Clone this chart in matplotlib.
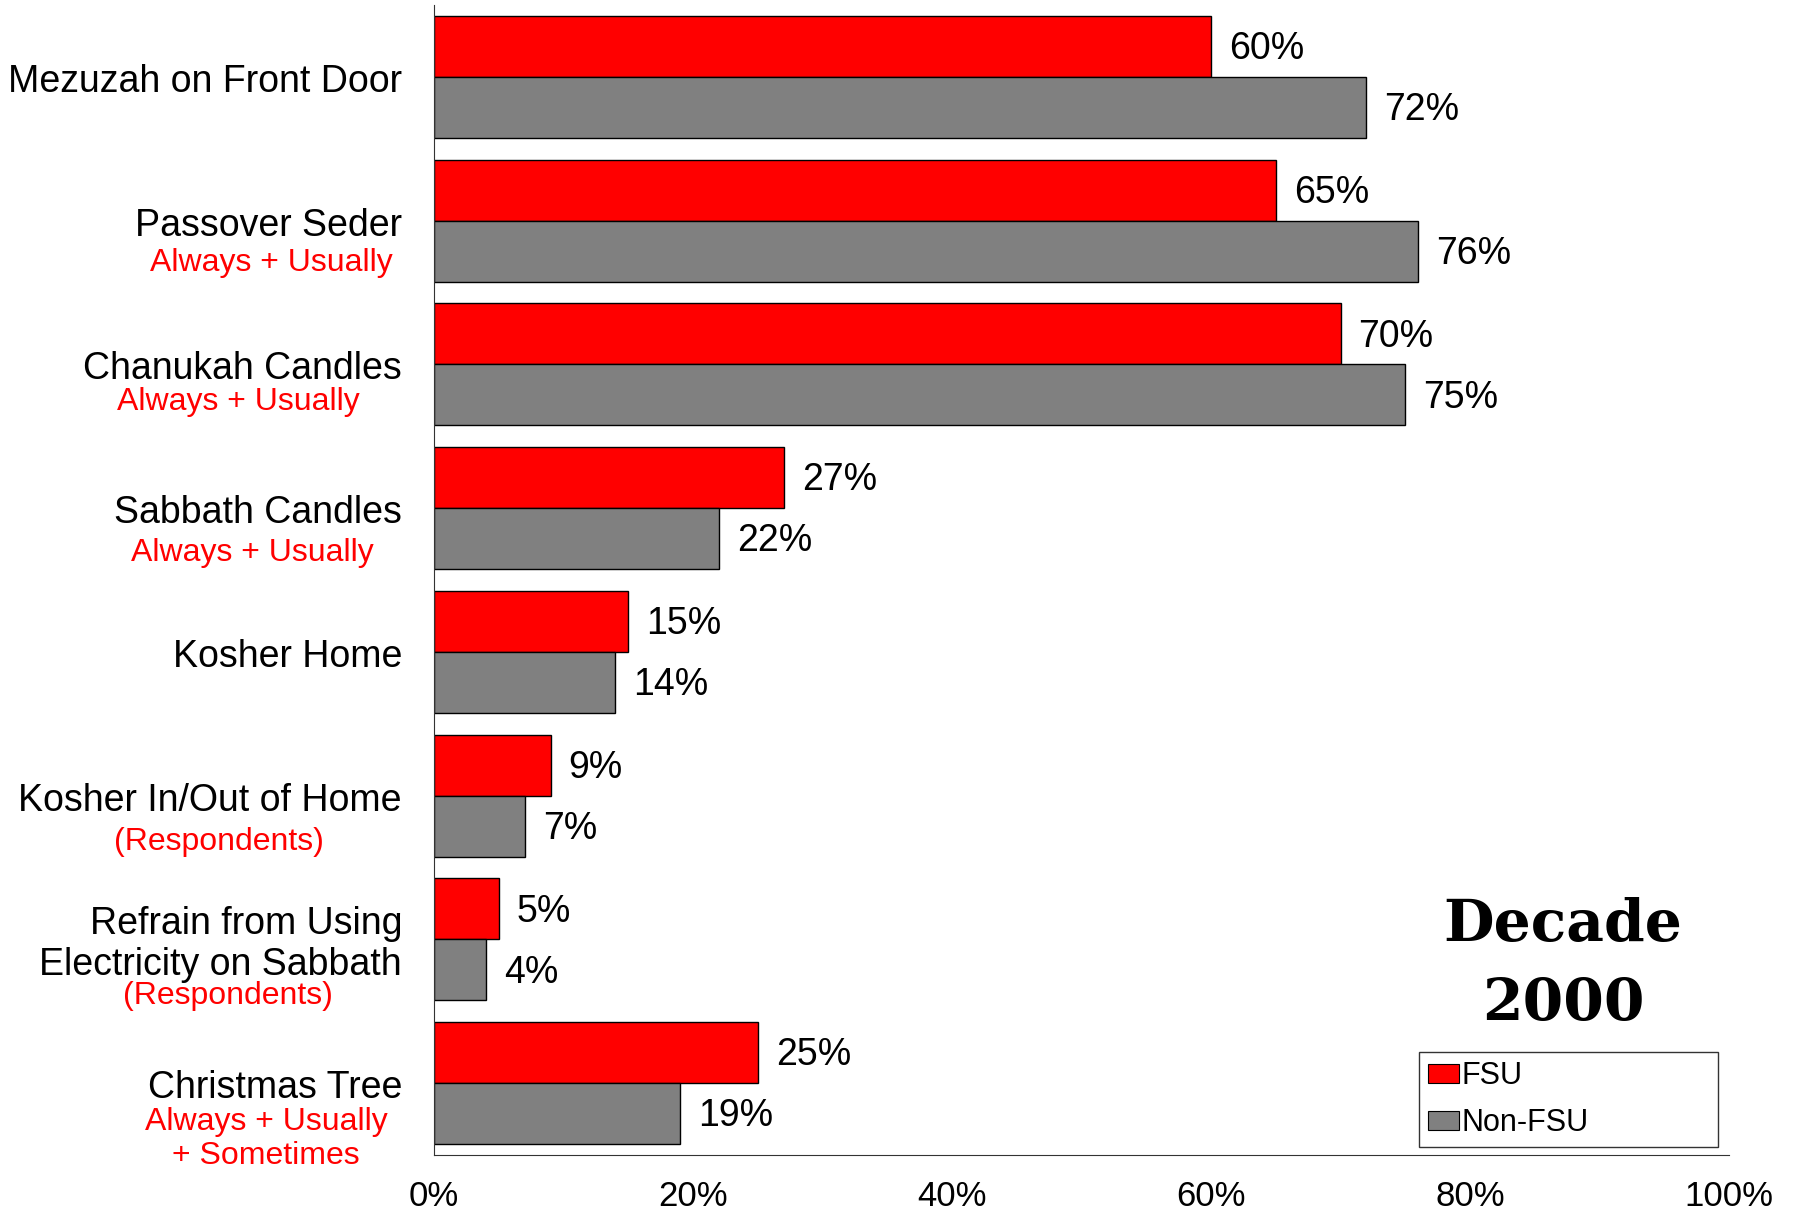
import matplotlib
matplotlib.use("Agg")
import matplotlib.pyplot as plt
import matplotlib.transforms as mtransforms
from matplotlib.patches import Patch

plt.rcParams['font.family'] = ['Liberation Sans', 'DejaVu Sans']

categories = ["Mezuzah on Front Door", "Passover Seder", "Chanukah Candles",
              "Sabbath Candles", "Kosher Home", "Kosher In/Out of Home",
              "Refrain from Using\nElectricity on Sabbath", "Christmas Tree"]
sublabels = ["", "Always + Usually", "Always + Usually", "Always + Usually", "",
             "(Respondents)", "(Respondents)", "Always + Usually\n+ Sometimes"]
fsu = [60, 65, 70, 27, 15, 9, 5, 25]
non_fsu = [72, 76, 75, 22, 14, 7, 4, 19]
xticks = [0, 20, 40, 60, 80, 100]
xticklabels = ["0%", "20%", "40%", "60%", "80%", "100%"]

W, H = 1797, 1213
fig = plt.figure(figsize=(W / 100, H / 100), dpi=100)
ax = fig.add_axes([434 / W, 1 - 1155 / H, (1729 - 434) / W, (1155 - 5) / H])

n = len(categories)
pos = list(range(n))
bh = 0.425
red = "#FF0000"
gray = "#808080"
b1 = ax.barh([p - bh / 2 for p in pos], fsu, height=bh, color=red,
             edgecolor="black", linewidth=1.0, label="FSU")
b2 = ax.barh([p + bh / 2 for p in pos], non_fsu, height=bh, color=gray,
             edgecolor="black", linewidth=1.0, label="Non-FSU")

for bars, vals in ((b1, fsu), (b2, non_fsu)):
    for rect, v in zip(bars, vals):
        ax.annotate(f"{v}%", (rect.get_width(), rect.get_y() + rect.get_height() / 2),
                    xytext=(13, -2), textcoords="offset points", ha="left",
                    va="center", fontsize=27)

ax.set_xlim(0, 100)
ax.set_ylim(n - 0.5, -0.5)
ax.set_yticks([])
ax.set_xticks(xticks)
ax.set_xticklabels(xticklabels, fontsize=25)
ax.tick_params(axis="x", length=0, pad=18)
for s in ("top", "right"):
    ax.spines[s].set_visible(False)
ax.spines["left"].set_color("#333333")
ax.spines["bottom"].set_color("#333333")

# category labels
px = 143.75  # pixels per category unit
trans = mtransforms.blended_transform_factory(fig.transFigure, ax.transData)
main_x = 402 / W
sub_x = [None, 271, 238, 252, None, 219, 228, 266]
sub_off = [0, 42, 38, 45, 0, 46, 57, 56]
for i, (c, s) in enumerate(zip(categories, sublabels)):
    ax.text(main_x, i + 5 / px, c, transform=trans, ha="right", va="center",
            fontsize=27, multialignment="right", linespacing=1.2, clip_on=False)
    if s:
        ax.text(sub_x[i] / W, i + sub_off[i] / px, s, transform=trans, ha="center",
                va="center", fontsize=23, color=red, linespacing=1.2,
                multialignment="center", clip_on=False)

fig.text(1563 / W, 1 - 925 / H, "Decade", fontsize=42, fontweight="bold",
         family="DejaVu Serif", ha="center", va="center")
fig.text(1563 / W, 1 - 1004 / H, "2000", fontsize=42, fontweight="bold",
         family="DejaVu Serif", ha="center", va="center")

handles = [Patch(facecolor=red, edgecolor="black", linewidth=0.8, label="FSU"),
           Patch(facecolor=gray, edgecolor="black", linewidth=0.8, label="Non-FSU")]
leg = fig.legend(handles=handles, loc="upper left",
                 bbox_to_anchor=(1419 / W, 1 - 1143 / H, (1718 - 1419) / W, (1143 - 1052) / H),
                 mode="expand", fontsize=22, frameon=True, fancybox=False,
                 handlelength=1.0, handleheight=0.6, handletextpad=0.1,
                 borderpad=0.3, labelspacing=0.55, borderaxespad=0)
leg.get_frame().set_edgecolor("#333333")
leg.get_frame().set_linewidth(1.0)
leg.get_frame().set_alpha(1.0)

fig.savefig("out.png", dpi=100)
